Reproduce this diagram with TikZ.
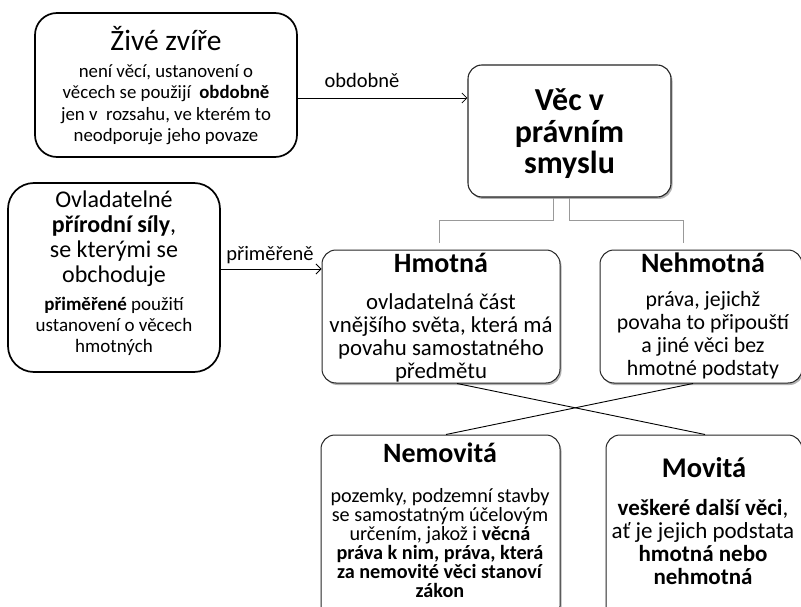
\documentclass[tikz,border=0pt]{standalone}
\usepackage{fontspec}
\setmainfont{Carlito}
\usetikzlibrary{arrows.meta,shadows,calc}
\begin{document}
\begin{tikzpicture}[x=1pt,y=-1pt,
  outerbox/.style={draw=black, line width=1.7pt, rounded corners=22pt, fill=white, inner sep=0pt},
  mainbox/.style={draw=black!85, line width=1.1pt, rounded corners=14pt, fill=white, inner sep=0pt,
    drop shadow={shadow xshift=1.5pt, shadow yshift=-2pt, opacity=0.3, fill=black}},
  treebox/.style={draw=black!85, line width=1pt, rounded corners=14pt, fill=white, inner sep=0pt,
    drop shadow={shadow xshift=1.5pt, shadow yshift=-2pt, opacity=0.3, fill=black}},
  txt/.style={align=center, inner sep=0pt, anchor=base},
  arr/.style={line width=0.9pt, -{Straight Barb[length=5pt, width=10pt, line width=0.8pt]}},
  treeline/.style={draw=black!40, line width=1pt},
  crossline/.style={draw=black, line width=0.9pt},
  lbl/.style={inner sep=0pt, anchor=base, font=\fontsize{20.5}{22}\selectfont}
]
\clip (0,0) rectangle (801,607);
\fill[white] (0,0) rectangle (801,607);

% boxes
\node[outerbox, minimum width=262pt, minimum height=144pt] (ziv) at (166,85) {};
\node[outerbox, minimum width=212pt, minimum height=189pt, rounded corners=26pt] (ovl) at (114,277.5) {};
\node[mainbox, minimum width=203pt, minimum height=132pt] (vec) at (569.5,131) {};
\node[treebox, minimum width=238pt, minimum height=133pt] (hm) at (441,316.5) {};
\node[treebox, minimum width=202pt, minimum height=133pt] (nehm) at (701,316.5) {};
\node[treebox, minimum width=239pt, minimum height=185pt] (nemov) at (440.5,527.5) {};
\node[treebox, minimum width=196pt, minimum height=185pt] (mov) at (704,527.5) {};

% texts (multi-line nodes: base = baseline of the last line)
\node[txt, font=\fontsize{29.5}{30}\selectfont] (zivT) at (166,51) {Živé zvíře};
\node[txt, font=\fontsize{18.8}{21.6}\selectfont] (zivB) at (166,142)
  {není věcí, ustanovení o\\ věcech se použijí\ \ \textbf{obdobně}\\ jen v\ \ rozsahu, ve kterém to\\ neodporuje jeho povaze};

\node[txt, font=\fontsize{24}{25}\selectfont] (ovlT) at (114,282)
  {Ovladatelné\\ \textbf{přírodní síly},\\ se kterými se\\ obchoduje};
\node[txt, font=\fontsize{19}{21}\selectfont] (ovlB) at (114,352)
  {\textbf{přiměřené} použití\\ ustanovení o věcech\\ hmotných};

\node[txt, font=\bfseries\fontsize{32}{31.5}\selectfont] (vecT) at (569.5,174)
  {Věc v\\ právním\\ smyslu};

\node[txt, font=\bfseries\fontsize{28}{30}\selectfont] (hmT) at (441,272) {Hmotná};
\node[txt, font=\fontsize{22.8}{22.8}\selectfont] (hmB) at (441,378)
  {ovladatelná část\\ vnějšího světa, která má\\ povahu samostatného\\ předmětu};

\node[txt, font=\bfseries\fontsize{28}{30}\selectfont] (nehmT) at (703,272) {Nehmotná};
\node[txt, font=\fontsize{21.8}{22.7}\selectfont] (nehmB) at (703,375)
  {práva, jejichž\\ povaha to připouští\\ a jiné věci bez\\ hmotné podstaty};

\node[txt, font=\bfseries\fontsize{28}{30}\selectfont] (nemovT) at (440,462) {Nemovitá};
\node[txt, font=\fontsize{20.2}{18.9}\selectfont] (nemovB) at (440,597)
  {pozemky, podzemní stavby\\ se samostatným účelovým\\ určením, jakož i \textbf{věcná}\\ \textbf{práva k nim, práva, která}\\ \textbf{za nemovité věci stanoví}\\ \textbf{zákon}};

\node[txt, font=\bfseries\fontsize{28.5}{30}\selectfont] (movT) at (704,477) {Movitá};
\node[txt, font=\fontsize{23}{23}\selectfont] (movB) at (703,584)
  {\textbf{veškeré další věci},\\ ať je jejich podstata\\ \textbf{hmotná nebo}\\ \textbf{nehmotná}};

% arrows with labels
\coordinate (a1) at (ziv.east |- 0,98);
\draw[arr] (a1) -- (a1 -| vec.west);
\node[lbl] (l1) at (362,88) {obdobně};
\coordinate (a2) at (ovl.east |- 0,269);
\draw[arr] (a2) -- (a2 -| hm.west);
\node[lbl] (l2) at (270,260) {přiměřeně};

% tree connectors
\coordinate (t1) at ($(vec.south)+(-16.5,0)$);
\coordinate (t2) at ($(vec.south)+(-0.5,0)$);
\coordinate (h1) at (439,243);
\coordinate (n1) at (683,243);
\draw[treeline] (t1) -- (t1 |- 0,220) -| (h1);
\draw[treeline] (t2) -- (t2 |- 0,220) -| (n1);

% crossing connectors
\coordinate (c1) at (hm.south -| 457,0);
\coordinate (c2) at (mov.north -| 705,0);
\coordinate (c3) at (nehm.south -| 693,0);
\coordinate (c4) at (nemov.north -| 446,0);
\draw[crossline] (c1) -- (c2);
\draw[crossline] (c3) -- (c4);
\end{tikzpicture}
\end{document}
